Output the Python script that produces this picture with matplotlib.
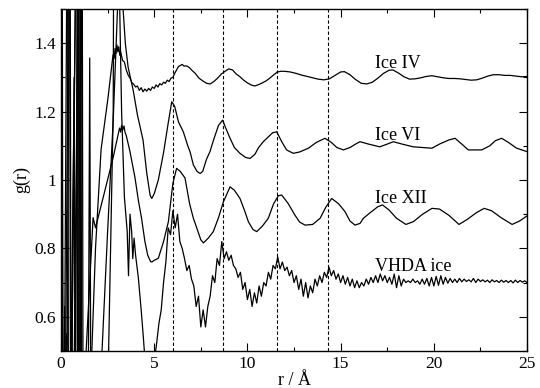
import numpy as np
import matplotlib
matplotlib.use("Agg")
import matplotlib.pyplot as plt
from matplotlib.ticker import MultipleLocator, FuncFormatter

plt.rcParams["font.family"] = ["Liberation Serif", "DejaVu Serif"]

# Ice IV (shifted by +0.3)
r_ice4 = [0.0, 0.06, 0.12, 0.45, 0.52, 0.70, 0.76, 0.92, 1.00, 1.30, 1.62, 1.85,
          2.15, 2.52, 2.79, 2.85, 2.9, 2.95, 3.0, 3.05, 3.1, 3.15, 3.2, 3.3, 3.4,
          3.5, 3.6, 3.7, 3.8, 3.9, 4.0, 4.1, 4.2, 4.3, 4.4, 4.5, 4.6, 4.7, 4.8,
          4.9, 5.0, 5.1, 5.2, 5.3, 5.4, 5.5, 5.6, 5.7, 5.8, 5.9, 6.0, 6.1, 6.2,
          6.3, 6.4, 6.5, 6.6, 6.7, 6.8, 6.9, 7.0, 7.2, 7.4, 7.6, 7.8, 8.0, 8.2,
          8.4, 8.6, 8.8, 9.0, 9.2, 9.4, 9.6, 9.8, 10.0, 10.2, 10.4, 10.6, 10.8,
          11.0, 11.2, 11.4, 11.6, 11.8, 12.0, 12.3, 12.6, 12.9, 13.2, 13.5, 13.8,
          14.1, 14.4, 14.7, 15.0, 15.2, 15.5, 15.8, 16.1, 16.4, 16.7, 17.0, 17.3,
          17.6, 17.8, 18.1, 18.4, 18.7, 19.0, 19.3, 19.6, 19.9, 20.2, 20.5, 20.8,
          21.1, 21.4, 21.7, 22.0, 22.3, 22.6, 22.9, 23.2, 23.5, 23.8, 24.1, 24.4,
          24.7, 25.0]
g_ice4 = [0.30, 2.0, -0.5, 2.0, 0.0, 1.30, 0.2, 2.0, -0.3, 0.35, 0.45, 0.80,
          1.09, 1.24, 1.366, 1.355, 1.385, 1.37, 1.395, 1.375, 1.39, 1.365, 1.375, 1.35, 1.345,
          1.322, 1.307, 1.298, 1.285, 1.28, 1.272, 1.275, 1.262, 1.27, 1.258, 1.266, 1.26, 1.268, 1.262,
          1.272, 1.268, 1.278, 1.272, 1.282, 1.278, 1.286, 1.283, 1.292, 1.288, 1.298, 1.30, 1.312, 1.322,
          1.332, 1.335, 1.338, 1.333, 1.334, 1.332, 1.328, 1.322, 1.312, 1.298, 1.29, 1.283, 1.281, 1.288,
          1.298, 1.31, 1.318, 1.325, 1.322, 1.31, 1.302, 1.292, 1.284, 1.278, 1.275, 1.279, 1.284,
          1.290, 1.298, 1.307, 1.316, 1.318, 1.318, 1.316, 1.312, 1.307, 1.303, 1.299, 1.295,
          1.293, 1.296, 1.306, 1.316, 1.317, 1.308, 1.294, 1.283, 1.281, 1.286, 1.298, 1.312,
          1.321, 1.322, 1.313, 1.302, 1.295, 1.296, 1.299, 1.303, 1.305, 1.302, 1.299, 1.297,
          1.297, 1.296, 1.294, 1.292, 1.293, 1.298, 1.304, 1.308, 1.308, 1.306, 1.306, 1.304,
          1.302, 1.303]

# Ice VI (shifted by +0.1)
r_ice6 = [0.0, 0.04, 0.09, 0.35, 0.42, 0.85, 0.90, 1.05, 1.12, 1.45, 1.54, 1.60,
          1.9, 2.2, 2.5, 2.8, 3.1, 3.25, 3.33, 3.45, 3.6, 3.87, 4.1, 4.4, 4.6,
          4.78, 4.87, 5.0, 5.22, 5.5, 5.76, 5.94, 6.1, 6.3, 6.56, 6.8, 6.92, 7.1,
          7.3, 7.46, 7.6, 7.8, 7.99, 8.2, 8.45, 8.67, 8.85, 9.07, 9.3, 9.6, 9.9,
          10.14, 10.4, 10.6, 10.85, 11.1, 11.35, 11.57, 11.84, 12.1, 12.46, 12.8,
          13.27, 13.7, 14.16, 14.5, 14.8, 15.15, 15.5, 15.8, 16.04, 16.5, 17.1,
          17.5, 17.83, 18.3, 18.9, 19.4, 19.9, 20.3, 20.8, 21.14, 21.5, 21.85,
          22.57, 23.0, 23.3, 23.64, 24.0, 24.44, 25.0]
g_ice6 = [0.10, 2.0, -0.5, 2.0, -0.5, 2.0, -0.4, 2.0, 0.0, 0.2, 1.357, 0.3,
          0.4, 0.5, 0.85, 1.175, 1.6, 1.65, 1.5, 1.40, 1.33, 1.263, 1.19, 1.117, 1.02,
          0.955, 0.946, 0.96, 1.00, 1.08, 1.17, 1.229, 1.215, 1.17, 1.141, 1.10, 1.083, 1.044,
          1.025, 1.019, 1.025, 1.06, 1.083, 1.12, 1.16, 1.175, 1.15, 1.122, 1.095, 1.078, 1.066,
          1.063, 1.075, 1.095, 1.112, 1.125, 1.138, 1.141, 1.112, 1.088, 1.078, 1.082,
          1.093, 1.11, 1.122, 1.11, 1.095, 1.088, 1.095, 1.105, 1.112, 1.105, 1.097,
          1.105, 1.112, 1.105, 1.097, 1.095, 1.093, 1.105, 1.117, 1.122, 1.105, 1.088,
          1.088, 1.10, 1.115, 1.122, 1.11, 1.093, 1.083]

# Ice XII (shifted by -0.1)
r_ice12 = [0.0, 0.2, 0.26, 0.48, 0.56, 1.0, 1.08, 1.3, 1.72, 1.85, 2.34, 2.79,
           3.14, 3.2, 3.25, 3.3, 3.38, 3.43, 3.5, 3.7, 3.97, 4.15, 4.32, 4.5,
           4.65, 4.8, 4.87, 5.0, 5.22, 5.5, 5.76, 6.0, 6.2, 6.4, 6.65, 6.9, 7.1,
           7.28, 7.5, 7.64, 7.9, 8.17, 8.45, 8.71, 9.07, 9.3, 9.6, 9.85, 10.05,
           10.3, 10.5, 10.8, 11.12, 11.4, 11.66, 11.84, 12.2, 12.55, 12.8, 13.09,
           13.5, 13.9, 14.2, 14.52, 14.9, 15.24, 15.5, 15.77, 16.04, 16.22, 16.6,
           17.0, 17.25, 17.6, 18.0, 18.5, 18.9, 19.4, 19.9, 20.3, 20.8, 21.35,
           21.8, 22.3, 22.7, 23.1, 23.6, 24.2, 24.6, 25.0]
g_ice12 = [-0.1, 0.63, -0.2, 2.0, -0.3, 2.0, -0.3, 0.45, 0.89, 0.86, 0.966, 1.064,
           1.152, 1.14, 1.16, 1.145, 1.158, 1.14, 1.13, 1.083, 1.006, 0.94, 0.888, 0.82,
           0.78, 0.762, 0.76, 0.765, 0.771, 0.82, 0.878, 0.99, 1.034, 1.025, 1.006, 0.93, 0.888,
           0.86, 0.825, 0.816, 0.83, 0.849, 0.89, 0.936, 0.98, 0.97, 0.946, 0.91, 0.878,
           0.855, 0.849, 0.865, 0.888, 0.93, 0.954, 0.956, 0.93, 0.897, 0.877, 0.868,
           0.87, 0.888, 0.92, 0.946, 0.93, 0.907, 0.88, 0.868, 0.873, 0.888, 0.905,
           0.922, 0.927, 0.912, 0.888, 0.87, 0.878, 0.90, 0.917, 0.915, 0.897, 0.87,
           0.885, 0.905, 0.917, 0.91, 0.89, 0.87, 0.88, 0.895]

# VHDA ice (shifted by -0.3), short range part
r_vhda_a = [0.0, 0.02, 0.14, 0.3, 0.36, 0.88, 0.95, 1.13, 1.2, 1.7, 2.2, 2.5,
            2.8, 2.85, 3.05, 3.25, 3.4, 3.55, 3.62, 3.7, 3.79, 3.85, 3.92, 4.0,
            4.15, 4.3, 4.42, 4.55, 4.7, 4.8, 4.9]
g_vhda_a = [-0.3, 2.0, -0.3, 0.55, -0.3, 2.0, -0.3, 2.0, -0.3, 0.25, 0.2, 0.35,
            1.2, 2.2, 1.8, 1.2, 0.95, 0.85, 0.72, 0.9, 0.849, 0.77, 0.83, 0.78,
            0.713, 0.62, 0.537, 0.44, 0.47, 0.42, 0.48]
# VHDA ice from 5 to 25 A, every 0.125 A (one row per A)
r_vhda_b = np.arange(5.0, 25.001, 0.125)
g_vhda_b = [0.47, 0.52, 0.58, 0.62, 0.70, 0.76, 0.86, 0.84,
            0.91, 0.86, 0.90, 0.82, 0.80, 0.77, 0.735, 0.75,
            0.71, 0.69, 0.63, 0.66, 0.57, 0.62, 0.57, 0.63,
            0.66, 0.72, 0.70, 0.77, 0.75, 0.82, 0.77, 0.79,
            0.765, 0.78, 0.75, 0.74, 0.715, 0.73, 0.68, 0.70,
            0.65, 0.68, 0.63, 0.67, 0.64, 0.69, 0.66, 0.70,
            0.69, 0.73, 0.71, 0.75, 0.74, 0.775, 0.74, 0.76,
            0.735, 0.745, 0.72, 0.735, 0.70, 0.72, 0.68, 0.71,
            0.66, 0.70, 0.655, 0.69, 0.67, 0.71, 0.69, 0.72,
            0.70, 0.73, 0.715, 0.745, 0.72, 0.735, 0.71, 0.725,
            0.70, 0.72, 0.695, 0.715, 0.69, 0.71, 0.685, 0.705,
            0.685, 0.70, 0.69, 0.71, 0.695, 0.715, 0.70, 0.72,
            0.70, 0.725, 0.705, 0.72, 0.70, 0.715, 0.695, 0.725,
            0.685, 0.72, 0.69, 0.71, 0.70, 0.705, 0.70, 0.71,
            0.70, 0.705, 0.695, 0.71, 0.695, 0.712, 0.69, 0.715,
            0.69, 0.718, 0.692, 0.72, 0.695, 0.715, 0.698, 0.712,
            0.70, 0.71, 0.70, 0.712, 0.702, 0.71, 0.703, 0.708,
            0.702, 0.712, 0.70, 0.71, 0.703, 0.708, 0.702, 0.707,
            0.70, 0.708, 0.702, 0.706, 0.70, 0.707, 0.701, 0.706,
            0.70, 0.706, 0.699, 0.707, 0.70, 0.706, 0.701, 0.705,
            0.70]

# peak positions marked with dashed lines
r_marks = [6.02, 8.67, 11.6, 14.3]

labels = ["Ice IV", "Ice VI", "Ice XII", "VHDA ice"]
label_y = [1.327, 1.117, 0.932, 0.735]

fig = plt.figure(figsize=(5.4, 3.88), dpi=100)
ax = fig.add_axes([0.113, 0.0956, 0.863, 0.881])

for rm in r_marks:
    ax.axvline(rm, color="black", lw=0.8, ls=(0, (3, 2)))

ax.plot(r_ice4, g_ice4, color="black", lw=0.9)
ax.plot(r_ice6, g_ice6, color="black", lw=0.9)
ax.plot(r_ice12, g_ice12, color="black", lw=0.9)
ax.plot(list(r_vhda_a) + list(r_vhda_b), g_vhda_a + g_vhda_b, color="black", lw=0.9)

for lab, ly in zip(labels, label_y):
    ax.text(16.85, ly, lab, fontsize=13, ha="left", va="baseline")

ax.set_xlim(0, 25)
ax.set_ylim(0.5, 1.5)
ax.xaxis.set_major_locator(MultipleLocator(5))
ax.xaxis.set_minor_locator(MultipleLocator(2.5))
ax.yaxis.set_major_locator(MultipleLocator(0.2))
ax.yaxis.set_minor_locator(MultipleLocator(0.1))
ax.yaxis.set_major_formatter(FuncFormatter(lambda v, p: f"{v:g}"))
ax.tick_params(which="both", direction="in", top=True, right=True, labelsize=12.5)
ax.tick_params(which="major", length=5.5, width=0.8)
ax.tick_params(which="minor", length=3, width=0.8)
for s in ax.spines.values():
    s.set_linewidth(1.0)

ax.set_xlabel("r / Å", fontsize=13, labelpad=0)
ax.set_ylabel("g(r)", fontsize=13, labelpad=3)

plt.savefig("out.png", dpi=100)
